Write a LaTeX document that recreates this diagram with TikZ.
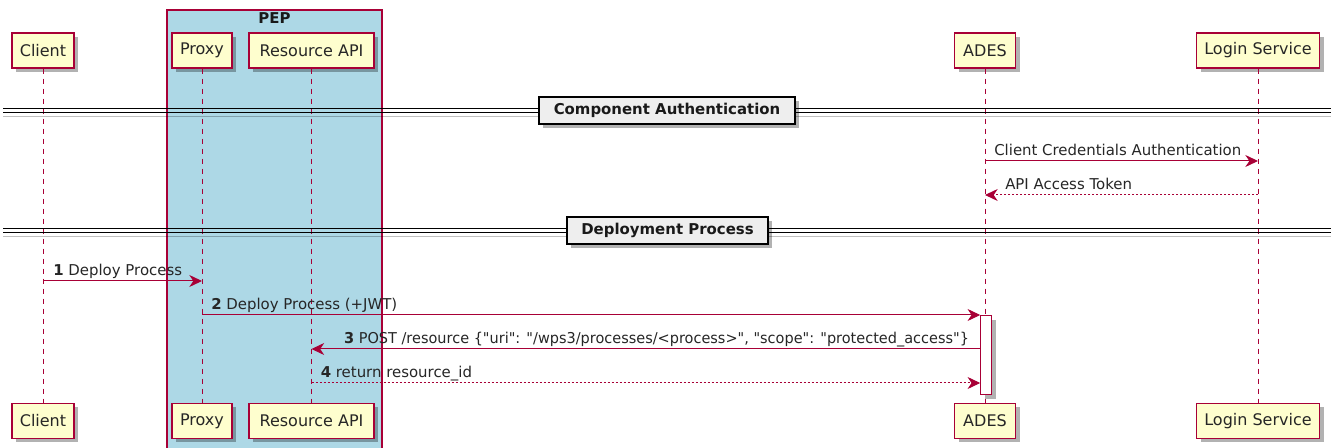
\documentclass[tikz,border=0pt]{standalone}
\usepackage{fontspec}
\setmainfont{DejaVu Sans}[Ligatures=TeXOff]
\usetikzlibrary{arrows.meta,shadows}
\definecolor{pu}{HTML}{A80036}
\definecolor{pbox}{HTML}{FEFECE}
\definecolor{pepblue}{HTML}{ADD8E6}
\definecolor{divfill}{HTML}{EEEEEE}
\begin{document}
\begin{tikzpicture}[x=0.75pt,y=-0.75pt,
  font=\fontsize{11.2}{13.5}\selectfont,
  part/.style={draw=pu, fill=pbox, line width=1.1pt, minimum height=26.25pt, inner sep=0pt, text=black!85,
    font=\fontsize{12}{14}\selectfont,
    drop shadow={shadow xshift=3pt, shadow yshift=-3pt, fill=black, opacity=0.3}},
  life/.style={draw=pu, line width=0.75pt, dash pattern=on 3.75pt off 3.75pt},
  msg/.style={draw=pu, line width=0.75pt, -{Stealth[length=9.5pt,width=9pt,inset=3pt]}},
  ret/.style={msg, dash pattern=on 1.5pt off 1.5pt},
  lbl/.style={anchor=base west, inner sep=0pt, text=black!85},
  lblr/.style={anchor=base east, inner sep=0pt, text=black!85},
  divbox/.style={draw=black, fill=divfill, line width=1.1pt, minimum height=20.25pt, inner sep=0pt,
    font=\bfseries\fontsize{11.2}{13.5}\selectfont, text=black!90,
    drop shadow={shadow xshift=3pt, shadow yshift=-3pt, fill=black, opacity=0.3}},
  divline/.style={draw=black, line width=0.9pt},
  divshadow/.style={draw=black, opacity=0.25, line width=1.2pt},
  act/.style={draw=pu, fill=white, line width=0.9pt, minimum width=8.25pt, minimum height=59.25pt, inner sep=0pt,
    drop shadow={shadow xshift=3pt, shadow yshift=-3pt, fill=black, opacity=0.3}},
  pepframe/.style={draw=pu, fill=pepblue, line width=0.9pt}
]
\useasboundingbox (0,0) rectangle (1331,448);

% PEP group box
\draw[pepframe] (167,10) rectangle (382,452);
\node[font=\bfseries\fontsize{11.2}{13.5}\selectfont, text=black!90] (peptitle) at (274.5,18.5) {PEP};

% participants (top)
\node[part, minimum width=46.5pt]  (client) at (43,50.5)   {Client};
\node[part, minimum width=45pt]    (proxy)  at (202,50.5)  {Proxy};
\node[part, minimum width=93.75pt] (res)    at (311.5,50.5){Resource API};
\node[part, minimum width=45.75pt] (ades)   at (985,50.5)  {ADES};
\node[part, minimum width=92.25pt] (login)  at (1258,50.5) {Login Service};

% participants (bottom)
\node[part, minimum width=46.5pt]  (clientB) at (43,421)    {Client};
\node[part, minimum width=45pt]    (proxyB)  at (202,421)   {Proxy};
\node[part, minimum width=93.75pt] (resB)    at (311.5,421) {Resource API};
\node[part, minimum width=45.75pt] (adesB)   at (985,421)   {ADES};
\node[part, minimum width=92.25pt] (loginB)  at (1258,421)  {Login Service};

% lifelines
\draw[life] (client) -- (clientB);
\draw[life] (proxy) -- (proxyB);
\draw[life] (res) -- (resB);
\draw[life] (ades) -- (adesB);
\draw[life] (login) -- (loginB);

% dividers
\coordinate (d1l) at (3,110.5);
\coordinate (d1r) at (1331,110.5);
\draw[divshadow] ([yshift=-4.5pt]d1l) -- ([yshift=-4.5pt]d1r);
\draw[divline] ([yshift=1.5pt]d1l) -- ([yshift=1.5pt]d1r);
\draw[divline] ([yshift=-1.5pt]d1l) -- ([yshift=-1.5pt]d1r);
\node[divbox, minimum width=192pt] (div1) at (667,110.5) {Component Authentication};

\coordinate (d2l) at (3,230.5);
\coordinate (d2r) at (1331,230.5);
\draw[divshadow] ([yshift=-4.5pt]d2l) -- ([yshift=-4.5pt]d2r);
\draw[divline] ([yshift=1.5pt]d2l) -- ([yshift=1.5pt]d2r);
\draw[divline] ([yshift=-1.5pt]d2l) -- ([yshift=-1.5pt]d2r);
\node[divbox, minimum width=150.75pt] (div2) at (667.5,230.5) {Deployment Process};

% message rows
\coordinate (mc) at (0,161);
\coordinate (mt) at (0,195);
\coordinate (m1) at (0,281);
\coordinate (m2) at (0,315);
\coordinate (m3) at (0,349);
\coordinate (m4) at (0,383);

% activation on ADES
\node[act, anchor=north] (actv) at ([xshift=1pt]ades |- m2) {};

% component authentication
\draw[msg] (ades |- mc) -- (login |- mc);
\node[lbl] (lc) at ([xshift=6.75pt,yshift=3.75pt]ades |- mc) {Client Credentials Authentication};
\draw[ret] (login |- mt) -- (ades |- mt);
\node[lbl] (lt) at ([xshift=15pt,yshift=3.75pt]ades |- mt) {API Access Token};

% deployment process
\draw[msg] (client |- m1) -- (proxy |- m1);
\node[lbl] (l1) at ([xshift=7.5pt,yshift=3.75pt]client |- m1) {\textbf{1} Deploy Process};

\draw[msg] (proxy |- m2) -- (actv.west |- m2);
\node[lbl] (l2) at ([xshift=6.75pt,yshift=3.75pt]proxy |- m2) {\textbf{2} Deploy Process (+JWT)};

\draw[msg] (actv.west |- m3) -- (res |- m3);
\node[lblr, xscale=0.97, transform shape] (l3) at ([xshift=-8.25pt,yshift=3.75pt]actv.west |- m3) {\textbf{3} POST /resource \{"uri": "/wps3/processes/<process>", "scope": "protected\_access"\}};

\draw[ret] (res |- m4) -- (actv.west |- m4);
\node[lbl] (l4) at ([xshift=6.75pt,yshift=3.75pt]res |- m4) {\textbf{4} return resource\_id};
\end{tikzpicture}
\end{document}
